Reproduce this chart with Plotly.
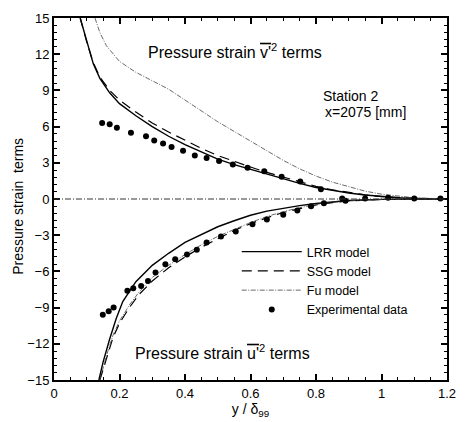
import plotly.graph_objects as go

# Pressure-strain terms across the boundary layer, Station 2 (x = 2075 mm)

# --- v'^2 terms (upper branch) ---
lrr_v_x = [0.08, 0.10, 0.12, 0.14, 0.17, 0.20, 0.25, 0.30, 0.35, 0.40, 0.45, 0.50, 0.55,
           0.60, 0.65, 0.70, 0.75, 0.80, 0.85, 0.90, 0.95, 1.00, 1.05, 1.10, 1.20]
lrr_v_y = [15.0, 13.0, 11.2, 10.0, 8.8, 7.9, 6.9, 6.0, 5.2, 4.5, 3.9, 3.3, 2.85,
           2.45, 2.05, 1.65, 1.3, 0.95, 0.7, 0.5, 0.33, 0.2, 0.1, 0.05, 0.0]

ssg_v_x = [0.08, 0.10, 0.12, 0.14, 0.17, 0.20, 0.25, 0.30, 0.35, 0.40, 0.45, 0.50, 0.55,
           0.60, 0.65, 0.70, 0.75, 0.80, 0.85, 0.90, 0.95, 1.00, 1.05, 1.10, 1.20]
ssg_v_y = [15.0, 13.0, 11.3, 10.1, 9.0, 8.2, 7.2, 6.3, 5.55, 4.85, 4.2, 3.6, 3.1,
           2.65, 2.2, 1.8, 1.4, 1.05, 0.75, 0.52, 0.35, 0.2, 0.1, 0.05, 0.0]

fu_v_x = [0.125, 0.14, 0.16, 0.20, 0.25, 0.30, 0.35, 0.40, 0.45, 0.50, 0.55, 0.60,
          0.65, 0.70, 0.75, 0.80, 0.85, 0.90, 0.95, 1.00, 1.05, 1.10, 1.20]
fu_v_y = [15.0, 13.8, 12.7, 11.4, 10.5, 9.8, 9.1, 8.2, 7.3, 6.4, 5.6, 4.8,
          4.0, 3.2, 2.5, 1.9, 1.4, 1.0, 0.65, 0.4, 0.22, 0.1, 0.0]

exp_v_x = [0.147, 0.170, 0.192, 0.235, 0.281, 0.306, 0.333, 0.359, 0.394, 0.430, 0.466,
           0.504, 0.546, 0.591, 0.642, 0.695, 0.752, 0.815, 0.88, 0.95, 1.02, 1.10, 1.18]
exp_v_y = [6.3, 6.2, 5.9, 5.5, 5.2, 4.85, 4.6, 4.3, 4.0, 3.6, 3.4,
           3.15, 2.85, 2.6, 2.3, 1.85, 1.45, 0.8, 0.05, 0.05, 0.1, 0.05, 0.05]

# --- u'^2 terms (lower branch) ---
lrr_u_x = [0.137, 0.15, 0.17, 0.19, 0.21, 0.25, 0.30, 0.35, 0.40, 0.45, 0.50, 0.55,
           0.60, 0.65, 0.70, 0.75, 0.80, 0.85, 0.90, 1.00, 1.20]
lrr_u_y = [-15.0, -13.5, -11.6, -9.9, -8.5, -6.85, -5.5, -4.5, -3.6, -2.95, -2.3, -1.8,
           -1.35, -1.0, -0.75, -0.55, -0.37, -0.22, -0.12, -0.03, 0.0]

ssg_u_x = [0.14, 0.16, 0.18, 0.20, 0.23, 0.26, 0.30, 0.35, 0.40, 0.45, 0.50, 0.55,
           0.60, 0.65, 0.70, 0.75, 0.80, 0.85, 0.90, 1.00, 1.20]
ssg_u_y = [-15.0, -13.3, -11.5, -10.3, -9.0, -7.9, -6.8, -5.7, -4.8, -4.0, -3.3, -2.6,
           -2.05, -1.55, -1.12, -0.78, -0.5, -0.3, -0.16, -0.04, 0.0]

fu_u_x = [0.14, 0.16, 0.18, 0.20, 0.23, 0.26, 0.30, 0.35, 0.40, 0.45, 0.50, 0.55,
          0.60, 0.65, 0.70, 0.75, 0.80, 0.85, 0.90, 1.00, 1.20]
fu_u_y = [-15.0, -13.0, -11.3, -10.1, -8.8, -7.7, -6.5, -5.5, -4.6, -3.8, -3.1, -2.5,
          -1.95, -1.45, -1.05, -0.72, -0.45, -0.28, -0.15, -0.04, 0.0]

exp_u_x = [0.149, 0.167, 0.182, 0.224, 0.242, 0.266, 0.287, 0.31, 0.34, 0.37, 0.406,
           0.436, 0.466, 0.51, 0.555, 0.606, 0.65, 0.70, 0.743, 0.785, 0.824, 0.89]
exp_u_y = [-9.6, -9.3, -9.0, -7.6, -7.4, -7.2, -6.8, -6.1, -5.4, -5.0, -4.6,
           -4.2, -3.6, -3.1, -2.7, -2.1, -1.7, -1.3, -0.95, -0.6, -0.35, -0.15]

x_ticks = [0, 0.2, 0.4, 0.6, 0.8, 1, 1.2]
x_tick_text = ["0", "0.2", "0.4", "0.6", "0.8", "1", "1.2"]
y_ticks = [-15, -12, -9, -6, -3, 0, 3, 6, 9, 12, 15]

FONT = "Liberation Sans, Arial, sans-serif"
solid = dict(color="black", width=1.4)
dashed = dict(color="black", width=1.2, dash="10px,6px")
fu_line = dict(color="#444444", width=0.8, dash="5px,1.5px,1px,1.5px")

fig = go.Figure()

# zero reference line
fig.add_shape(type="line", xref="x", yref="y", x0=0, x1=1.2, y0=0, y1=0,
              line=dict(color="#333333", width=1.0, dash="6px,2px,1px,2px"))

fig.add_trace(go.Scatter(x=lrr_v_x, y=lrr_v_y, mode="lines", line=solid,
                         name="LRR model", legendgroup="lrr"))
fig.add_trace(go.Scatter(x=lrr_u_x, y=lrr_u_y, mode="lines", line=solid,
                         name="LRR model", legendgroup="lrr", showlegend=False))
fig.add_trace(go.Scatter(x=ssg_v_x, y=ssg_v_y, mode="lines", line=dashed,
                         name="SSG model", legendgroup="ssg"))
fig.add_trace(go.Scatter(x=ssg_u_x, y=ssg_u_y, mode="lines", line=dashed,
                         name="SSG model", legendgroup="ssg", showlegend=False))
fig.add_trace(go.Scatter(x=fu_v_x, y=fu_v_y, mode="lines", line=fu_line,
                         name="Fu model", legendgroup="fu"))
fig.add_trace(go.Scatter(x=fu_u_x, y=fu_u_y, mode="lines", line=fu_line,
                         name="Fu model", legendgroup="fu", showlegend=False))
fig.add_trace(go.Scatter(x=exp_v_x, y=exp_v_y, mode="markers",
                         marker=dict(color="black", size=6),
                         name="Experimental data", legendgroup="exp"))
fig.add_trace(go.Scatter(x=exp_u_x, y=exp_u_y, mode="markers",
                         marker=dict(color="black", size=6),
                         name="Experimental data", legendgroup="exp", showlegend=False))

big_font = dict(family=FONT, size=16, color="black")
mid_font = dict(family=FONT, size=14, color="black")
fig.add_annotation(x=0.28, y=12.3, xref="x", yref="y", xanchor="left", showarrow=False,
                   text="Pressure strain <span style='text-decoration:overline'>v'</span><sup>2</sup> terms",
                   font=big_font)
fig.add_annotation(x=0.24, y=-12.7, xref="x", yref="y", xanchor="left", showarrow=False,
                   text="Pressure strain <span style='text-decoration:overline'>u'</span><sup>2</sup> terms",
                   font=big_font)
fig.add_annotation(x=0.815, y=8.5, xref="x", yref="y", xanchor="left", showarrow=False,
                   text="Station 2", font=mid_font)
fig.add_annotation(x=0.82, y=7.2, xref="x", yref="y", xanchor="left", showarrow=False,
                   text="x=2075 [mm]", font=mid_font)

# vertical axis title
fig.add_annotation(x=-0.09, y=-0.6, xref="paper", yref="y", xanchor="center",
                   yanchor="middle", showarrow=False, textangle=-90,
                   text="Pressure strain  terms",
                   font=dict(family=FONT, size=14, color="black"))

axis_common = dict(showgrid=False, zeroline=False, showline=True, linecolor="black",
                   linewidth=2, mirror="allticks", ticks="inside", ticklen=6,
                   tickwidth=1.5, tickcolor="black",
                   tickfont=dict(family=FONT, size=13, color="black"))

fig.update_xaxes(range=[0, 1.2], tickvals=x_ticks, ticktext=x_tick_text,
                 minor=dict(dtick=0.05, ticks="inside", ticklen=3, tickwidth=1,
                            tickcolor="black"),
                 title=dict(text="y / δ<sub>99</sub>", standoff=1,
                            font=dict(family=FONT, size=14, color="black")),
                 **axis_common)
fig.update_yaxes(range=[-15, 15], tickvals=y_ticks,
                 minor=dict(dtick=0.6, ticks="inside", ticklen=3, tickwidth=1,
                            tickcolor="black"),
                 **axis_common)

fig.update_layout(
    width=467, height=422,
    margin=dict(l=54, r=11, t=16, b=34),
    paper_bgcolor="white", plot_bgcolor="white",
    font=dict(family=FONT, color="black"),
    legend=dict(x=0.465, y=0.395, xanchor="left", yanchor="top",
                bgcolor="rgba(0,0,0,0)", borderwidth=0,
                font=dict(family=FONT, size=12.5, color="black"),
                itemwidth=60, tracegroupgap=0),
)

fig.write_html("out.html")
